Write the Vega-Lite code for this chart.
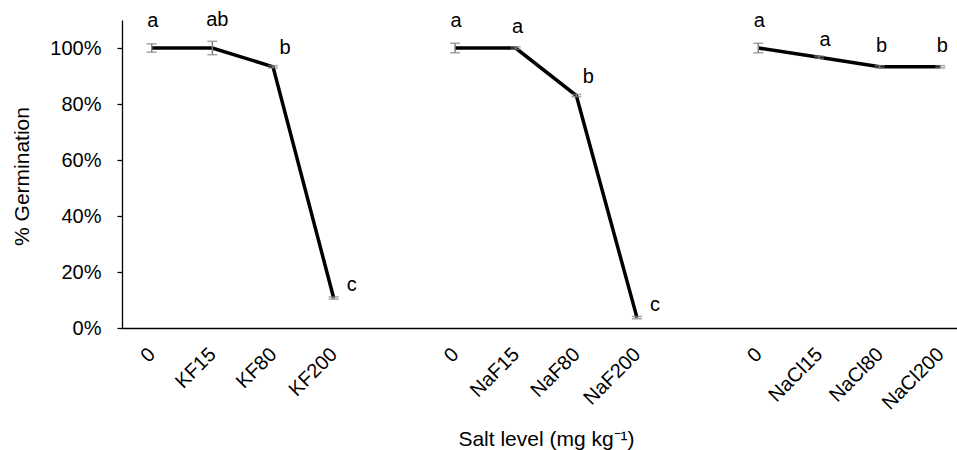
{
  "$schema": "https://vega.github.io/schema/vega-lite/v6.json",
  "autosize": {"type": "none"},
  "padding": {"left": 122, "top": 20, "right": 0, "bottom": 122},
  "width": 835,
  "height": 308,
  "background": "white",
  "config": {
    "view": {"stroke": null},
    "font": "Liberation Sans",
    "axis": {"labelFont": "Liberation Sans", "titleFont": "Liberation Sans", "labelColor": "#000", "titleColor": "#000", "domainColor": "#000", "tickColor": "#000", "labelFontSize": 20, "titleFontSize": 21, "titleFontWeight": "normal", "grid": false}
  },
  "data": {
    "values": [
      {"cat": "0|KF", "group": "KF", "value": 1.0, "err": 0.015, "letter": "a"},
      {"cat": "KF15", "group": "KF", "value": 1.0, "err": 0.024, "letter": "ab"},
      {"cat": "KF80", "group": "KF", "value": 0.933, "err": 0.004, "letter": "b"},
      {"cat": "KF200", "group": "KF", "value": 0.107, "err": 0.004, "letter": "c"},
      {"cat": "0|NaF", "group": "NaF", "value": 1.0, "err": 0.017, "letter": "a"},
      {"cat": "NaF15", "group": "NaF", "value": 1.0, "err": 0.004, "letter": "a"},
      {"cat": "NaF80", "group": "NaF", "value": 0.83, "err": 0.004, "letter": "b"},
      {"cat": "NaF200", "group": "NaF", "value": 0.037, "err": 0.004, "letter": "c"},
      {"cat": "0|NaCl", "group": "NaCl", "value": 1.0, "err": 0.017, "letter": "a"},
      {"cat": "NaCl15", "group": "NaCl", "value": 0.967, "err": 0.004, "letter": "a"},
      {"cat": "NaCl80", "group": "NaCl", "value": 0.933, "err": 0.004, "letter": "b"},
      {"cat": "NaCl200", "group": "NaCl", "value": 0.933, "err": 0.004, "letter": "b"}
    ]
  },
  "encoding": {
    "x": {
      "field": "cat", "type": "nominal",
      "scale": {"type": "point", "domain": ["0|KF", "KF15", "KF80", "KF200", "gap1", "0|NaF", "NaF15", "NaF80", "NaF200", "gap2", "0|NaCl", "NaCl15", "NaCl80", "NaCl200"], "padding": 0.3826, "align": 0.64},
      "axis": {
        "title": "Salt level (mg kg⁻¹)",
        "labelExpr": "slice(datum.value,0,3)=='gap' ? '' : split(datum.value,'|')[0]",
        "labelAngle": -45, "labelAlign": "right", "labelBaseline": "middle",
        "labelPadding": 23, "ticks": false, "tickSize": 0, "domainWidth": 1.3,
        "titleX": 424, "titleY": 111, "titleAlign": "center", "titleBaseline": "middle", "titleAnchor": null
      }
    },
    "y": {
      "field": "value", "type": "quantitative",
      "scale": {"domain": [0, 1.1], "nice": false, "zero": true},
      "axis": {
        "title": "% Germination", "format": ".0%", "values": [0, 0.2, 0.4, 0.6, 0.8, 1.0],
        "tickSize": 5, "labelPadding": 16, "domainWidth": 1.3, "tickWidth": 1.3,
        "titleX": -100, "titleY": 156, "titleAngle": -90, "titleAlign": "center", "titleBaseline": "middle"
      }
    }
  },
  "layer": [
    {
      "mark": {"type": "line", "color": "#000", "strokeWidth": 3.5, "strokeJoin": "miter"},
      "encoding": {"detail": {"field": "group"}}
    },
    {
      "mark": {"type": "errorbar", "ticks": {"size": 10, "thickness": 1.5, "color": "#808080"}, "rule": {"strokeWidth": 1.5, "color": "#808080"}},
      "encoding": {"yError": {"field": "err"}}
    },
    {
      "transform": [{"filter": {"field": "cat", "oneOf": ["0|KF", "0|NaF", "0|NaCl"]}}],
      "mark": {"type": "text", "fontSize": 20, "color": "#000", "baseline": "middle", "dx": 1, "dy": -27},
      "encoding": {"text": {"field": "letter"}}
    },
    {
      "transform": [{"filter": {"field": "cat", "oneOf": ["KF15"]}}],
      "mark": {"type": "text", "fontSize": 20, "color": "#000", "baseline": "middle", "dx": 5, "dy": -28},
      "encoding": {"text": {"field": "letter"}}
    },
    {
      "transform": [{"filter": {"field": "cat", "oneOf": ["NaF15", "NaCl80", "NaCl200"]}}],
      "mark": {"type": "text", "fontSize": 20, "color": "#000", "baseline": "middle", "dx": 2, "dy": -21},
      "encoding": {"text": {"field": "letter"}}
    },
    {
      "transform": [{"filter": {"field": "cat", "oneOf": ["NaCl15"]}}],
      "mark": {"type": "text", "fontSize": 20, "color": "#000", "baseline": "middle", "dx": 6, "dy": -17},
      "encoding": {"text": {"field": "letter"}}
    },
    {
      "transform": [{"filter": {"field": "cat", "oneOf": ["KF80", "NaF80"]}}],
      "mark": {"type": "text", "fontSize": 20, "color": "#000", "baseline": "middle", "dx": 12, "dy": -19},
      "encoding": {"text": {"field": "letter"}}
    },
    {
      "transform": [{"filter": {"field": "cat", "oneOf": ["KF200", "NaF200"]}}],
      "mark": {"type": "text", "fontSize": 20, "color": "#000", "baseline": "middle", "dx": 18, "dy": -13},
      "encoding": {"text": {"field": "letter"}}
    }
  ]
}
